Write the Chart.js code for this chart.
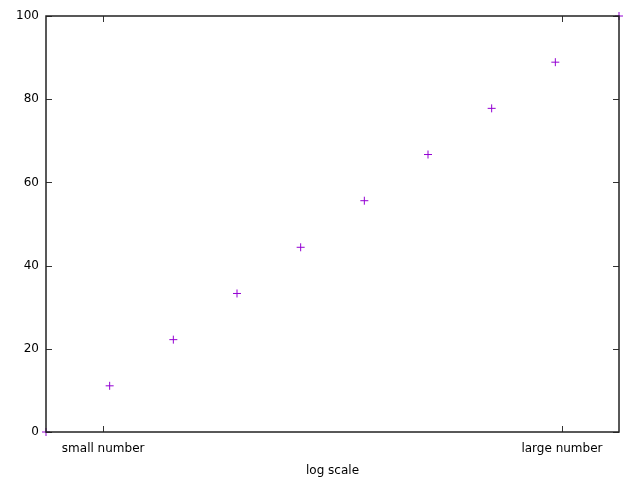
<!DOCTYPE html>
<html><head><meta charset="utf-8">
<script src="https://cdn.jsdelivr.net/npm/chart.js@4/dist/chart.umd.min.js"></script>
<style>html,body{margin:0;padding:0;background:#fff}#wrap{width:640px;height:480px}</style>
</head><body><div id="wrap"><canvas id="c" width="640" height="480"></canvas></div>
<script>
const xValues = [1, 10, 100, 1e3, 1e4, 1e5, 1e6, 1e7, 1e8, 1e9];
const yValues = [0, 11.1, 22.2, 33.3, 44.4, 55.6, 66.7, 77.8, 88.9, 100];
const xTickValues = [7.9, 1.27e8];
const xTickLabels = ['small number', 'large number'];
const yTickValues = [0, 20, 40, 60, 80, 100];
const xTitle = 'log scale';

const FONT = {family: 'DejaVu Sans', size: 12};

const frame = {
  id: 'frame',
  afterDraw(chart) {
    const {ctx, chartArea: a, scales} = chart;
    ctx.save();
    ctx.strokeStyle = '#333';
    ctx.lineWidth = 1;
    const L = 6;
    scales.x.ticks.forEach(t => {
      const px = Math.round(scales.x.getPixelForValue(t.value)) + 0.5;
      ctx.beginPath();
      ctx.moveTo(px, a.bottom); ctx.lineTo(px, a.bottom - L);
      ctx.moveTo(px, a.top); ctx.lineTo(px, a.top + L);
      ctx.stroke();
    });
    scales.y.ticks.forEach(t => {
      const py = Math.round(scales.y.getPixelForValue(t.value)) + 0.5;
      ctx.beginPath();
      ctx.moveTo(a.left, py); ctx.lineTo(a.left + L, py);
      ctx.moveTo(a.right, py); ctx.lineTo(a.right - L, py);
      ctx.stroke();
    });
    ctx.strokeStyle = '#222';
    ctx.lineWidth = 1.5;
    ctx.strokeRect(a.left, a.top, a.right - a.left, a.bottom - a.top);
    ctx.restore();
  }
};

new Chart(document.getElementById('c'), {
  type: 'scatter',
  data: {
    datasets: [{
      data: xValues.map((x, i) => ({x: x, y: yValues[i]})),
      pointStyle: 'cross',
      pointRadius: 4,
      pointBorderWidth: 1,
      borderColor: '#9400D3',
      backgroundColor: '#9400D3',
      clip: false
    }]
  },
  options: {
    responsive: false,
    animation: false,
    layout: {padding: {top: 16, right: 21, left: 0, bottom: 0}},
    plugins: {legend: {display: false}, tooltip: {enabled: false}},
    scales: {
      x: {
        type: 'logarithmic', min: 1, max: 1e9,
        grid: {display: false, drawTicks: false}, border: {display: false},
        afterBuildTicks: s => { s.ticks = xTickValues.map(v => ({value: v})); },
        afterFit: s => { s.height = 48; },
        ticks: {
          font: FONT, color: '#000', padding: 10, maxRotation: 0, autoSkip: false,
          callback: (v, i) => xTickLabels[i]
        },
        title: {display: true, text: xTitle, font: FONT, color: '#000', padding: {top: 0, bottom: 2}}
      },
      y: {
        min: 0, max: 100,
        grid: {display: false, drawTicks: false}, border: {display: false},
        afterBuildTicks: s => { s.ticks = yTickValues.map(v => ({value: v})); },
        afterFit: s => { s.width = 46; },
        ticks: {font: FONT, color: '#000', padding: 7}
      }
    }
  },
  plugins: [frame]
});
</script></body></html>
